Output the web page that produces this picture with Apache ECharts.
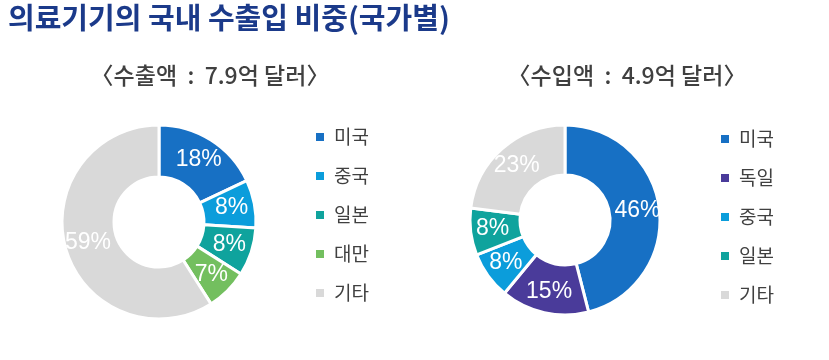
<!DOCTYPE html>
<html><head><meta charset="utf-8">
<script src="https://cdn.jsdelivr.net/npm/echarts@6/dist/echarts.min.js"></script>
<style>html,body{margin:0;padding:0;background:#fff}#c{width:829px;height:360px}</style>
</head><body><div id="c"></div>
<script>
const exportNames = ['미국','중국','일본','대만','기타'];
const exportValues = [18, 8, 8, 7, 59];
const importNames = ['미국','독일','중국','일본','기타'];
const importValues = [46, 15, 8, 8, 23];
const colorMap = {'미국':'#1770c4','중국':'#0b9ddb','일본':'#0fa39d','대만':'#73bf5f','기타':'#d9d9d9','독일':'#4a3b9a'};
const titleText = '의료기기의 국내 수출입 비중(국가별)';
const exportTitle = '〈수출액 : 7.9억 달러〉';
const importTitle = '〈수입액 : 4.9억 달러〉';

const font = '"Noto Sans CJK KR", "Noto Sans", sans-serif';
function mk(names, values){ return names.map((n,i)=>({name:n, value:values[i], itemStyle:{color:colorMap[n]}})); }
const pieBase = {
  type:'pie', radius:[45,97], startAngle:90, clockwise:true, avoidLabelOverlap:false,
  itemStyle:{borderColor:'#fff', borderWidth:3},
  label:{show:true, position:'inside', formatter:'{c}%', color:'#fff', fontSize:23, fontFamily:'"Liberation Sans", Arial, sans-serif'},
  labelLine:{show:false}, emphasis:{disabled:true}, animation:false
};
const legendBase = {orient:'vertical', icon:'rect', itemWidth:10, itemHeight:10, itemGap:19,
  textStyle:{fontSize:19, color:'#404040', fontFamily:font, lineHeight:20, padding:[0,0,0,4]}, selectedMode:false};
const subStyle = {fontSize:23, fontWeight:500, color:'#404040', fontFamily:font};
const chart = echarts.init(document.getElementById('c'));
chart.setOption({
  animation:false,
  title:[
    {text:titleText, left:3, top:-2, textStyle:{fontSize:29, fontWeight:'bold', color:'#1b3a8a', fontFamily:font}},
    {text:exportTitle.replace(' : ', '  :  '), left:205, top:59, textAlign:'center', textStyle:subStyle},
    {text:importTitle.replace(' : ', '  :  '), left:622, top:59, textAlign:'center', textStyle:subStyle}
  ],
  legend:[
    Object.assign({}, legendBase, {left:309, top:122, data:exportNames}),
    Object.assign({}, legendBase, {left:714, top:124, data:importNames})
  ],
  series:[
    Object.assign({}, pieBase, {center:[159,222], data:mk(exportNames, exportValues)}),
    Object.assign({}, pieBase, {center:[565,220], radius:[45,95], data:mk(importNames, importValues)})
  ]
});
</script></body></html>
